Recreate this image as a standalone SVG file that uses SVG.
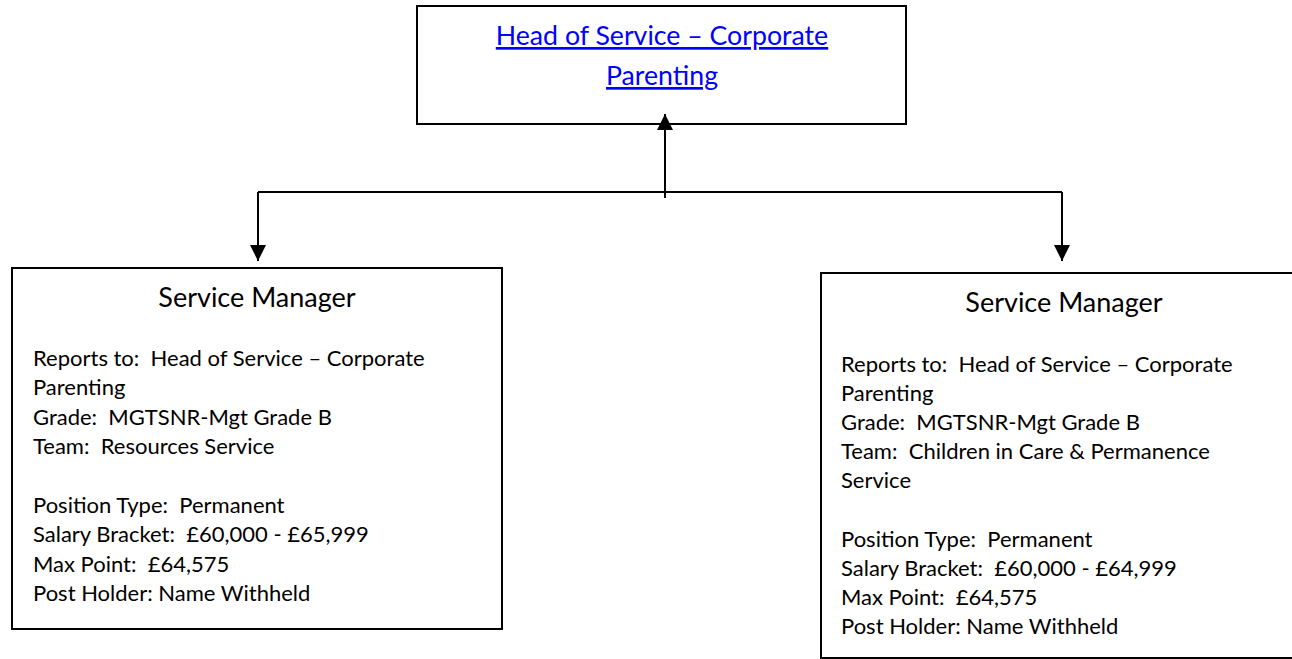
<svg xmlns="http://www.w3.org/2000/svg" width="1292" height="659" viewBox="0 0 1292 659" xml:space="preserve">
<style>
.box{fill:#fff;stroke:#000;stroke-width:2}
.title{font-family:Lato,"Open Sans",sans-serif;font-size:27px;fill:#000;text-anchor:middle}
.head{font-family:Lato,"Open Sans",sans-serif;font-size:26.7px;fill:#0000ff;text-anchor:middle;text-decoration:underline}
.body{font-family:Lato,"Open Sans",sans-serif;font-size:22px;fill:#000;white-space:pre}
.conn{stroke:#000;stroke-width:2;fill:none}
</style>
<defs>
<marker id="arr" markerWidth="16" markerHeight="16" viewBox="0 0 16 16" refX="16" refY="8" orient="auto" markerUnits="userSpaceOnUse">
<path d="M0,0 L16,8 L0,16 Z" fill="#000"/>
</marker>
</defs>
<rect width="1292" height="659" fill="#fff"/>
<g id="head-of-service">
<rect class="box" x="417" y="6" width="489" height="118"/>
<text class="head" x="662" y="45">Head of Service – Corporate</text>
<text class="head" x="662" y="85">Parenting</text>
</g>
<g id="service-manager-1">
<rect class="box" x="12" y="268" width="490" height="361"/>
<text class="title" x="257" y="307">Service Manager</text>
<text class="body" x="33" y="366">Reports to:  Head of Service – Corporate</text>
<text class="body" x="33" y="395">Parenting</text>
<text class="body" x="33" y="425">Grade:  MGTSNR-Mgt Grade B</text>
<text class="body" x="33" y="454">Team:  Resources Service</text>
<text class="body" x="33" y="513">Position Type:  Permanent</text>
<text class="body" x="33" y="542">Salary Bracket:  £60,000 - £65,999</text>
<text class="body" x="33" y="572">Max Point:  £64,575</text>
<text class="body" x="33" y="601">Post Holder: Name Withheld</text>
</g>
<g id="service-manager-2">
<rect class="box" x="821" y="273" width="490" height="385"/>
<text class="title" x="1064" y="312">Service Manager</text>
<text class="body" x="841" y="372">Reports to:  Head of Service – Corporate</text>
<text class="body" x="841" y="401">Parenting</text>
<text class="body" x="841" y="430">Grade:  MGTSNR-Mgt Grade B</text>
<text class="body" x="841" y="459">Team:  Children in Care &amp; Permanence</text>
<text class="body" x="841" y="488">Service</text>
<text class="body" x="841" y="547">Position Type:  Permanent</text>
<text class="body" x="841" y="576">Salary Bracket:  £60,000 - £64,999</text>
<text class="body" x="841" y="605">Max Point:  £64,575</text>
<text class="body" x="841" y="634">Post Holder: Name Withheld</text>
</g>
<g id="connectors">
<line class="conn" x1="665" y1="198" x2="665" y2="114" marker-end="url(#arr)"/>
<line class="conn" x1="258" y1="192" x2="1062" y2="192"/>
<line class="conn" x1="258" y1="192" x2="258" y2="261" marker-end="url(#arr)"/>
<line class="conn" x1="1062" y1="192" x2="1062" y2="261" marker-end="url(#arr)"/>
</g>
</svg>
